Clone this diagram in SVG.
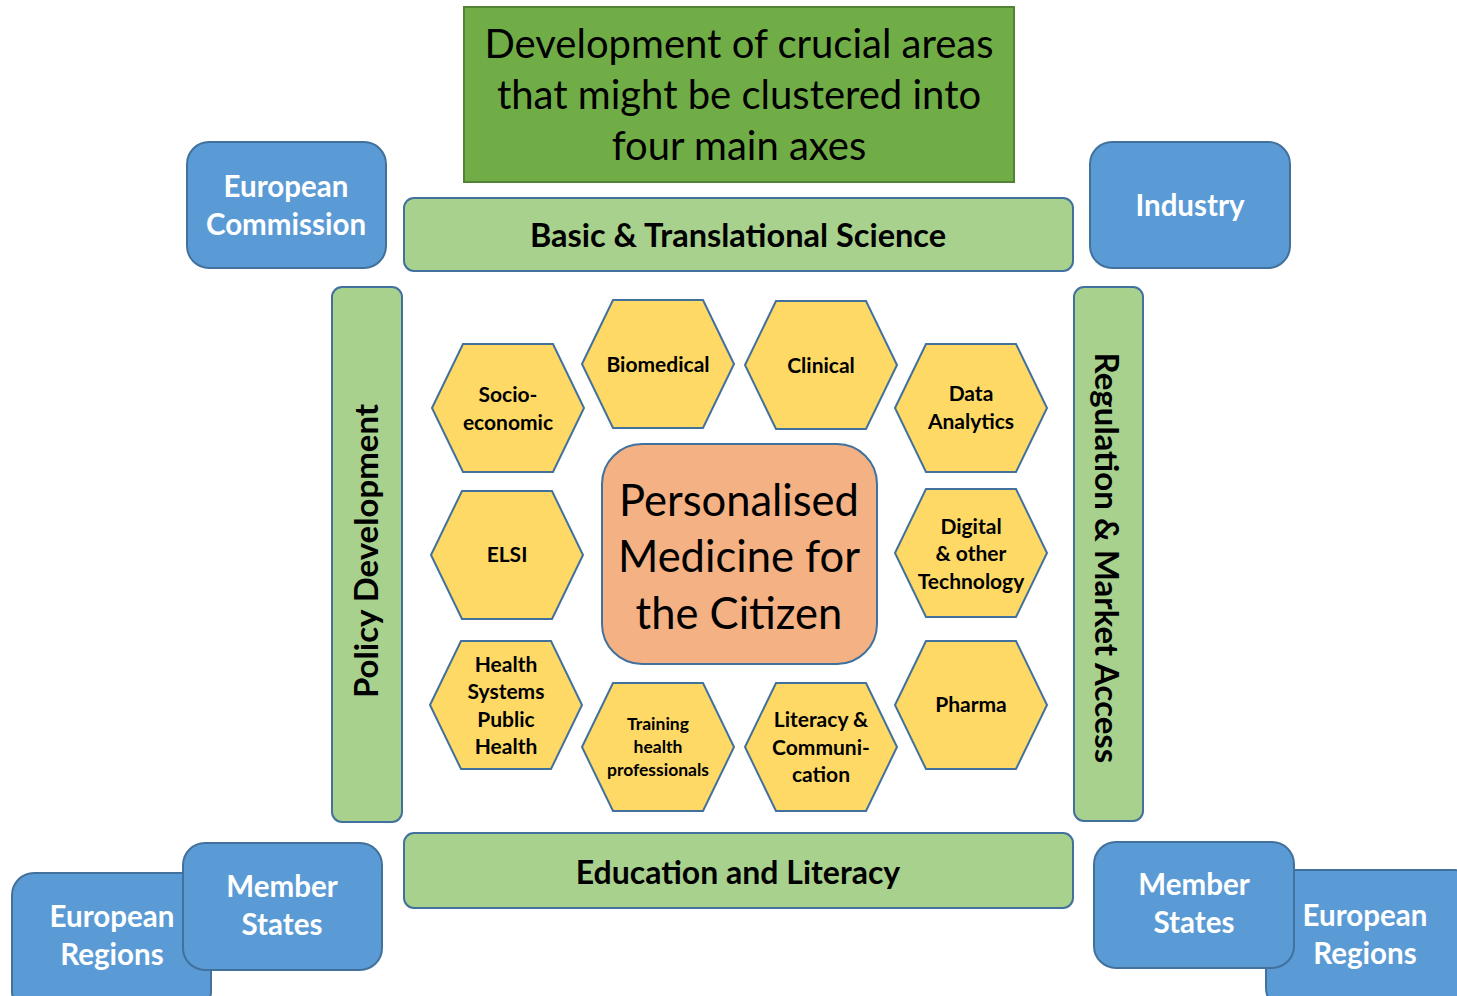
<svg xmlns="http://www.w3.org/2000/svg" width="1457" height="996" viewBox="0 0 1457 996">
<defs>
<style>
.blue{fill:#5b9bd5;stroke:#41719c;stroke-width:2}
.bar{fill:#a9d18e;stroke:#41719c;stroke-width:2}
.hex{fill:#ffd966;stroke:#41719c;stroke-width:2}
.wt{font-family:Lato,"Open Sans","Liberation Sans",sans-serif;font-weight:bold;fill:#ffffff;text-anchor:middle;font-size:29.5px}
.bt{font-family:Lato,"Open Sans","Liberation Sans",sans-serif;font-weight:bold;fill:#000000;text-anchor:middle;font-size:32px}
.ht{font-family:Lato,"Open Sans","Liberation Sans",sans-serif;font-weight:bold;fill:#000000;text-anchor:middle;font-size:21px}
.st{font-family:Lato,"Open Sans","Liberation Sans",sans-serif;font-weight:bold;fill:#000000;text-anchor:middle;font-size:17.5px}
.nt{font-family:Lato,"Open Sans","Liberation Sans",sans-serif;fill:#000000;text-anchor:middle}
</style>
<polygon id="hexshape" points="-76,0 -45,-64 45,-64 76,0 45,64 -45,64"/>
</defs>
<rect width="1457" height="996" fill="#ffffff"/>

<g id="title">
<rect x="464" y="7" width="550" height="175" fill="#70ad47" stroke="#548235" stroke-width="2"/>
<text class="nt" font-size="40" x="739" y="58">Development of crucial areas</text>
<text class="nt" font-size="40" x="739" y="109">that might be clustered into</text>
<text class="nt" font-size="40" x="739" y="160">four main axes</text>
</g>

<g id="european-commission">
<rect class="blue" x="187" y="142" width="199" height="126" rx="22"/>
<text class="wt" x="286" y="197">European</text>
<text class="wt" x="286" y="235">Commission</text>
</g>

<g id="industry">
<rect class="blue" x="1090" y="142" width="200" height="126" rx="22"/>
<text class="wt" x="1190" y="216">Industry</text>
</g>

<g id="basic-science">
<rect class="bar" x="404" y="198" width="669" height="73" rx="10"/>
<text class="bt" style="font-size:32.5px" x="738" y="247">Basic &amp; Translational Science</text>
</g>

<g id="policy-development">
<rect class="bar" x="332" y="287" width="70" height="535" rx="10"/>
<text class="bt" style="font-size:33px" transform="translate(378,551) rotate(-90)" x="0" y="0">Policy Development</text>
</g>

<g id="regulation">
<rect class="bar" x="1074" y="287" width="69" height="534" rx="10"/>
<text class="bt" style="font-size:33px" transform="translate(1095,558) rotate(90)" x="0" y="0">Regulation &amp; Market Access</text>
</g>

<g id="education">
<rect class="bar" x="404" y="833" width="669" height="75" rx="10"/>
<text class="bt" x="738" y="884">Education and Literacy</text>
</g>

<g id="center">
<rect x="602" y="444" width="275" height="220" rx="40" fill="#f4b183" stroke="#41719c" stroke-width="2"/>
<text class="nt" font-size="43.5" x="739" y="516">Personalised</text>
<text class="nt" font-size="43.5" x="739" y="572">Medicine for</text>
<text class="nt" font-size="43.5" x="739" y="629">the Citizen</text>
</g>

<g id="socio-economic">
<use href="#hexshape" class="hex" x="508" y="408"/>
<text class="ht" x="508" y="402">Socio-</text>
<text class="ht" x="508" y="430">economic</text>
</g>
<g id="biomedical">
<use href="#hexshape" class="hex" x="658" y="364"/>
<text class="ht" x="658" y="372">Biomedical</text>
</g>
<g id="clinical">
<use href="#hexshape" class="hex" x="821" y="365"/>
<text class="ht" x="821" y="373">Clinical</text>
</g>
<g id="data-analytics">
<use href="#hexshape" class="hex" x="971" y="408"/>
<text class="ht" x="971" y="401">Data</text>
<text class="ht" x="971" y="429">Analytics</text>
</g>
<g id="elsi">
<use href="#hexshape" class="hex" x="507" y="555"/>
<text class="ht" x="507" y="562">ELSI</text>
</g>
<g id="digital">
<use href="#hexshape" class="hex" x="971" y="553"/>
<text class="ht" x="971" y="534">Digital</text>
<text class="ht" x="971" y="561">&amp; other</text>
<text class="ht" x="971" y="589">Technology</text>
</g>
<g id="health-systems">
<use href="#hexshape" class="hex" x="506" y="705"/>
<text class="ht" x="506" y="672">Health</text>
<text class="ht" x="506" y="699">Systems</text>
<text class="ht" x="506" y="727">Public</text>
<text class="ht" x="506" y="754">Health</text>
</g>
<g id="training">
<use href="#hexshape" class="hex" x="658" y="747"/>
<text class="st" x="658" y="730">Training</text>
<text class="st" x="658" y="753">health</text>
<text class="st" x="658" y="776">professionals</text>
</g>
<g id="literacy">
<use href="#hexshape" class="hex" x="821" y="747"/>
<text class="ht" x="821" y="727">Literacy &amp;</text>
<text class="ht" x="821" y="755">Communi-</text>
<text class="ht" x="821" y="782">cation</text>
</g>
<g id="pharma">
<use href="#hexshape" class="hex" x="971" y="705"/>
<text class="ht" x="971" y="712">Pharma</text>
</g>

<g id="european-regions-left">
<rect class="blue" x="12" y="873" width="199" height="140" rx="22"/>
<text class="wt" x="112" y="927">European</text>
<text class="wt" x="112" y="965">Regions</text>
</g>
<g id="member-states-left">
<rect class="blue" x="183" y="843" width="199" height="127" rx="22"/>
<text class="wt" x="282" y="897">Member</text>
<text class="wt" x="282" y="935">States</text>
</g>
<g id="european-regions-right">
<rect class="blue" x="1266" y="870" width="210" height="140" rx="22"/>
<text class="wt" x="1365" y="926">European</text>
<text class="wt" x="1365" y="964">Regions</text>
</g>
<g id="member-states-right">
<rect class="blue" x="1094" y="842" width="200" height="126" rx="22"/>
<text class="wt" x="1194" y="895">Member</text>
<text class="wt" x="1194" y="933">States</text>
</g>

<g id="connectors"></g>
</svg>
